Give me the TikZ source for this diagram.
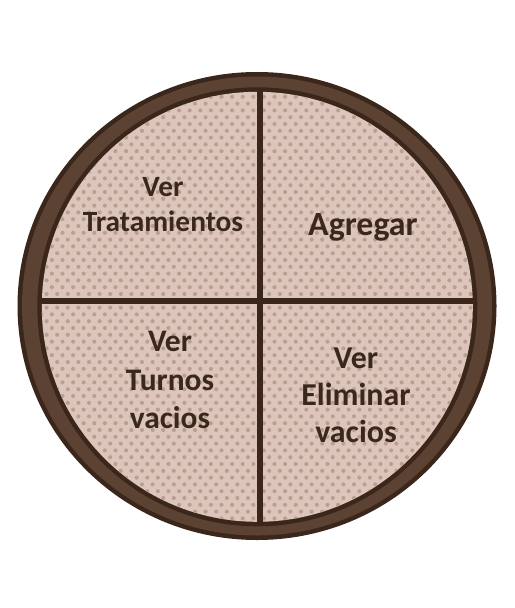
\documentclass[tikz,border=0pt]{standalone}
\usepackage{fontspec}
\setmainfont{Carlito}
\definecolor{ringdark}{HTML}{3A261A}
\definecolor{ringband}{HTML}{5C4232}
\definecolor{facefill}{HTML}{DCC6BC}
\definecolor{dotcol}{HTML}{BB9D91}
\definecolor{txtcol}{HTML}{3A281C}
\tikzset{
  label/.style={font=\bfseries, text=txtcol, align=center, inner sep=0pt},
  divider/.style={draw=ringdark, line width=5.5bp}
}
\begin{document}
\begin{tikzpicture}[x=1bp,y=-1bp]
\useasboundingbox (0,0) rectangle (515,608);
% rim
\fill[ringdark] (257,306) ellipse [x radius=239.5, y radius=234];
\fill[ringband] (257,306) ellipse [x radius=235, y radius=229.5];
\fill[ringdark] (257.3,306.8) ellipse [x radius=220, y radius=219.5];
\fill[facefill] (257.3,306.8) ellipse [x radius=215.5, y radius=215];
% dots
\begin{scope}
\clip (257.3,306.8) ellipse [x radius=215.5, y radius=215];
\foreach \r in {0,...,64}{
  \pgfmathsetmacro{\yy}{90+\r*6.8}
  \pgfmathsetmacro{\xo}{mod(\r,2)*5.3}
  \foreach \c in {0,...,42}{
    \fill[dotcol] ({36+\xo+\c*10.6},\yy) circle (2.05);
  }
}
\end{scope}
% cross
\coordinate (top) at (260,90);
\coordinate (bot) at (260,524);
\coordinate (lft) at (40,301);
\coordinate (rgt) at (475,301);
\begin{scope}
\clip (257.3,306.8) ellipse [x radius=217, y radius=216.5];
\draw[divider] (top) -- (bot);
\draw[divider] (lft) -- (rgt);
\end{scope}
% labels
\node[label, font=\bfseries\fontsize{29.5}{35}\selectfont] (q1) at (163,205) {Ver\\Tratamientos};
\node[label, font=\bfseries\fontsize{34}{40}\selectfont] (q2) at (363,227) {Agregar};
\node[label, font=\bfseries\fontsize{31.5}{39}\selectfont] (q3) at (170,380) {Ver\\Turnos\\vacios};
\node[label, font=\bfseries\fontsize{32}{37}\selectfont] (q4) at (356,395) {Ver\\Eliminar\\vacios};
\end{tikzpicture}
\end{document}
